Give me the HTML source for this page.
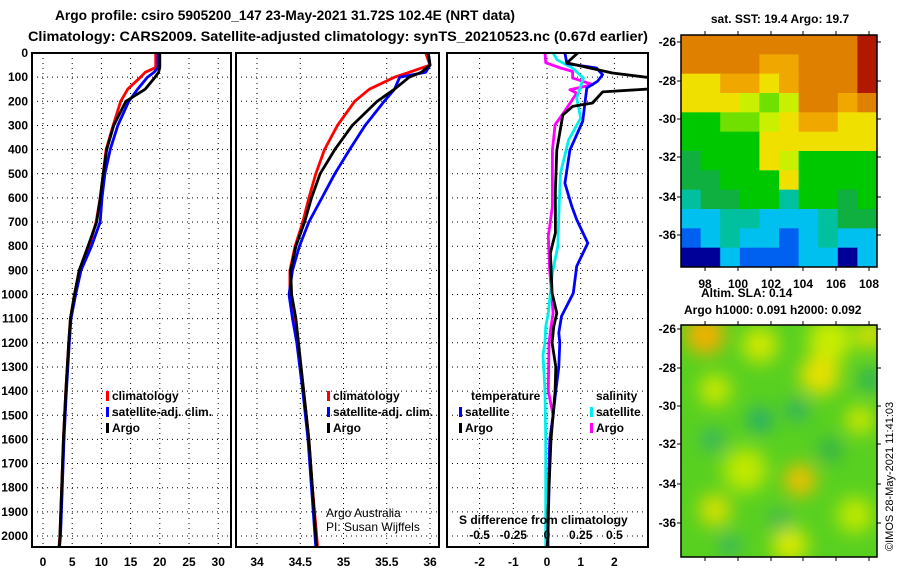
<!DOCTYPE html>
<html><head><meta charset="utf-8"><style>
html,body{margin:0;padding:0;background:#fff;}
svg{display:block;font-family:"Liberation Sans",Arial,sans-serif;}
.b{font-weight:bold;}
</style></head><body>
<svg id="c" width="900" height="580" viewBox="0 0 900 580">
<text x="55" y="20" textLength="460" lengthAdjust="spacingAndGlyphs" class="b" font-size="14">Argo profile: csiro 5905200_147 23-May-2021 31.72S 102.4E (NRT data)</text>
<text x="28" y="41" textLength="620" lengthAdjust="spacingAndGlyphs" class="b" font-size="14">Climatology: CARS2009. Satellite-adjusted climatology: synTS_20210523.nc (0.67d earlier)</text>
<g id="plots"></g>
<g id="maps"></g>
<text transform="translate(893,551) rotate(-90)" font-size="11">©IMOS 28-May-2021 11:41:03</text>
</svg>
<script>
// ---- data ----
const depthTicks=[0,100,200,300,400,500,600,700,800,900,1000,1100,1200,1300,1400,1500,1600,1700,1800,1900,2000];
const tTicks=[0,5,10,15,20,25,30];
const sTicks=[34,34.5,35,35.5,36];
const sTickLabels=["34","34.5","35","35.5","36"];
const dTTicks=[-2,-1,0,1,2];
const dSTicks=[-0.5,-0.25,0,0.25,0.5];
const dSTickLabels=["-0.5","-0.25","0","0.25","0.5"];

const tDepth=[0,60,80,100,150,200,300,400,500,600,700,800,900,1000,1100,1200,1400,1600,1800,2000,2050];
const tClim=[19.3,19.3,17.5,16.7,14.5,13.3,12.0,10.8,10.3,9.8,9.1,7.9,6.2,5.4,4.7,4.4,3.9,3.5,3.2,2.9,2.7];
const tSat=[19.7,19.7,19.0,17.9,16.2,14.7,12.8,11.5,10.6,10.1,9.8,8.3,6.5,5.6,4.8,4.5,4.0,3.6,3.3,3.0,2.8];
const tArgo=[20.0,20.0,19.8,19.2,17.5,14.2,12.1,10.9,10.3,9.8,9.2,7.7,6.2,5.4,4.7,4.4,3.9,3.5,3.2,2.9,2.8];

const sDepth=[0,50,80,100,150,200,300,400,500,600,700,800,900,1000,1100,1200,1400,1600,1800,2000,2050];
const sClim=[35.95,36.0,35.76,35.59,35.30,35.13,34.93,34.78,34.68,34.60,34.53,34.44,34.38,34.38,34.43,34.47,34.54,34.60,34.64,34.69,34.70];
const sSat=[35.98,36.0,35.95,35.65,35.59,35.47,35.25,35.07,34.90,34.75,34.60,34.49,34.41,34.37,34.41,34.46,34.53,34.59,34.63,34.67,34.68];
const sArgo=[35.98,36.0,35.90,35.76,35.59,35.39,35.10,34.90,34.73,34.63,34.55,34.45,34.39,34.40,34.45,34.48,34.54,34.60,34.64,34.68,34.69];

const dTArgoDepth=[0,41,83,110,145,161,207,221,257,402,567,745,828,994,1077,1134,1200,1300,1400,1500,1600,1700,1800,1900,2000,2050];
const dTArgo=[0.91,0.59,1.94,3.5,3.5,1.65,1.35,0.76,0.47,0.29,0.25,0.25,0.10,0.15,0.29,0.20,0.15,0.26,0.24,0.18,0.12,0.09,0.06,0.03,0.03,0.0];
const dTSatDepth=[0,44,62,90,117,145,283,402,539,636,690,787,883,994,1090,1159,1200,1300,1400,1500,1600,1800,2000,2050];
const dTSat=[0.53,0.59,1.47,1.65,1.5,1.18,1.06,0.68,0.53,0.74,0.88,1.21,0.88,0.78,0.43,0.35,0.38,0.35,0.26,0.18,0.09,0.06,0.03,0.03];
const dSArgoDepth=[0,40,62,76,104,131,152,166,242,297,402,636,760,900,1077,1134,1200,1400,1500,1600,1800,2000,2050];
const dSArgo=[-0.015,-0.01,0.10,0.19,0.19,0.34,0.17,0.22,0.13,0.06,0.04,0.04,0.01,0.02,0.045,0.03,0.015,0.01,0.045,0.02,0.01,0.0,0.0];
const dSSatDepth=[0,28,62,104,187,270,360,498,636,801,911,1077,1134,1200,1250,1400,1600,1800,2000,2050];
const dSSat=[0.045,0.075,0.19,0.27,0.22,0.25,0.16,0.10,0.09,0.08,0.04,0.01,-0.01,-0.015,-0.03,-0.015,-0.01,-0.01,-0.01,-0.01];

// ---- helpers ----
const NS="http://www.w3.org/2000/svg";
const plots=document.getElementById('plots');
function mk(tag,attrs,parent,txt){const e=document.createElementNS(NS,tag);for(const k in attrs)e.setAttribute(k,attrs[k]);if(txt!==undefined)e.textContent=txt;(parent||plots).appendChild(e);return e;}
const TOP=53,BOT=547;
const yD=d=>TOP+d*0.2415;
const xT=v=>43+v*5.84;
const xS=v=>257+(v-34)*86.5;
const xDT=v=>547+v*33.7;
const xDS=v=>547+v*134.8;

function panel(x0,x1,name){
  const g=mk('g',{});
  
  
  const cp=mk('clipPath',{id:'cp-'+name},g);
  mk('rect',{x:x0,y:TOP,width:x1-x0,height:BOT-TOP},cp);
  depthTicks.forEach(d=>{
    const l=mk('line',{x1:x0,x2:x1,y1:yD(d),y2:yD(d),stroke:'#000','stroke-width':1,'stroke-dasharray':'1,4'},g);
    
    
  });
  return g;
}
function vgrid(g,vals,fx){
  vals.forEach(v=>{
    const l=mk('line',{x1:fx(v),x2:fx(v),y1:TOP,y2:BOT,stroke:'#000','stroke-width':1,'stroke-dasharray':'1,4'},g);
    
    
  });
}
function frame(g,x0,x1){
  const r=mk('rect',{x:x0,y:TOP,width:x1-x0,height:BOT-TOP,fill:'none',stroke:'#000','stroke-width':2},g);
  
  
}
function line(g,name,depths,vals,fx,color,clip){
  const pts=[];
  for(let i=0;i<depths.length;i++){
    pts.push(fx(vals[i]).toFixed(1)+','+yD(depths[i]).toFixed(1));
  }
  const p=mk('polyline',{points:pts.join(' '),fill:'none',stroke:color,'stroke-width':2.8,'stroke-linejoin':'round','clip-path':'url(#cp-'+clip+')'},g);
  
  
}
function xlabels(g,vals,labels,fx,y,prefix){
  vals.forEach((v,i)=>{
    const t=mk('text',{x:fx(v),y:y,'text-anchor':'middle','font-size':12,'font-weight':'bold'},g,labels[i]);
    
    
  });
}
function legend(g,x,y,color,label){
  if(color){
    const m=mk('rect',{x:x,y:y-9,width:3,height:10,fill:color},g);
    
    
  }
  const t=mk('text',{x:x+6,y:y,'font-size':12,'font-weight':'bold'},g,label);
  
  
}

// y axis labels
const yax=mk('g',{});


depthTicks.forEach(d=>{
  const t=mk('text',{x:28,y:yD(d)+4,'text-anchor':'end','font-size':12,'font-weight':'bold'},yax,String(d));
  
  
});

// panel 1 temperature
const p1=panel(32,231,'temperature-panel');
vgrid(p1,tTicks,xT);
line(p1,'temp-climatology-line',tDepth,tClim,xT,'#f00','temperature-panel');
line(p1,'temp-satellite-line',tDepth,tSat,xT,'#00f','temperature-panel');
line(p1,'temp-argo-line',tDepth,tArgo,xT,'#000','temperature-panel');
frame(p1,32,231);
xlabels(p1,tTicks,tTicks.map(String),xT,566,'temperature');
legend(p1,106,400,'#f00','climatology');
legend(p1,106,416,'#00f','satellite-adj. clim.');
legend(p1,106,432,'#000','Argo');

// panel 2 salinity
const p2=panel(236,439,'salinity-panel');
vgrid(p2,sTicks,xS);
line(p2,'sal-climatology-line',sDepth,sClim,xS,'#f00','salinity-panel');
line(p2,'sal-satellite-line',sDepth,sSat,xS,'#00f','salinity-panel');
line(p2,'sal-argo-line',sDepth,sArgo,xS,'#000','salinity-panel');
frame(p2,236,439);
xlabels(p2,sTicks,sTickLabels,xS,566,'salinity');
legend(p2,327,400,'#f00','climatology');
legend(p2,327,416,'#00f','satellite-adj. clim.');
legend(p2,327,432,'#000','Argo');
mk('text',{x:326,y:517,'font-size':12},p2,'Argo Australia');
mk('text',{x:326,y:531,'font-size':12},p2,'PI: Susan Wijffels');

// panel 3 differences
const p3=panel(447,648,'difference-panel');
vgrid(p3,dSTicks,xDS);
line(p3,'dsal-argo-line',dSArgoDepth,dSArgo,xDS,'#f0f','difference-panel');
line(p3,'dsal-satellite-line',dSSatDepth,dSSat,xDS,'#0ee','difference-panel');
line(p3,'dtemp-satellite-line',dTSatDepth,dTSat,xDT,'#00f','difference-panel');
line(p3,'dtemp-argo-line',dTArgoDepth,dTArgo,xDT,'#000','difference-panel');
frame(p3,447,648);
xlabels(p3,dTTicks,dTTicks.map(String),xDT,566,'temp-diff');
xlabels(p3,dSTicks,dSTickLabels,xDS,539,'sal-diff');
mk('text',{x:459,y:524,'font-size':12,'font-weight':'bold'},p3,'S difference from climatology');
legend(p3,465,400,null,'temperature');
legend(p3,459,416,'#00f','satellite');
legend(p3,459,432,'#000','Argo');
legend(p3,590,400,null,'salinity');
legend(p3,590,416,'#0ee','satellite');
legend(p3,590,432,'#f0f','Argo');

// ---- maps ----
const maps=document.getElementById('maps');
const pal={R:'#b01800',O:'#e08000',o:'#f0a800',Y:'#f0e000',y:'#c8f000',L:'#70e000',G:'#00c800',g:'#10b040',T:'#00c0a0',C:'#00c0f0',B:'#0060f0',N:'#000098'};
const sstRows=["OOOOOOOOOR","OOOOooOOOR","YYooYoOOOR","YYYyLyOOoO","GGLLyYooYY","GGGGYYYYYY","gGGGYyGGGG","ggGGGYGGGG","TggGGTGGgG","CCTTCCCTgg","BCTCCBCTCC","NNCBBBCCNC"];
const sst=mk('g',{},maps);


const MX0=681,MX1=877,MY0=35,MY1=267;
const cw=(MX1-MX0)/10,ch=(MY1-MY0)/12;
sstRows.forEach((row,r)=>{[...row].forEach((c,k)=>{
  mk('rect',{x:MX0+k*cw,y:MY0+r*ch,width:cw+0.5,height:ch+0.5,fill:pal[c]},sst);
});});
mk('rect',{x:MX0,y:MY0,width:MX1-MX0,height:MY1-MY0,fill:'none',stroke:'#000','stroke-width':1.5},sst);
const latTop=[-26,-28,-30,-32,-34,-36],latTopY=[42,81,119,157,197,235];
latTop.forEach((v,i)=>{mk('text',{x:676,y:latTopY[i]+4,'text-anchor':'end','font-size':12,'font-weight':'bold'},sst,String(v));
mk('line',{x1:MX0-4,x2:MX0,y1:latTopY[i],y2:latTopY[i],stroke:'#000'},sst);mk('line',{x1:MX1,x2:MX1+4,y1:latTopY[i],y2:latTopY[i],stroke:'#000'},sst);});
const lon=[98,100,102,104,106,108],lonX=[705,738,771,803,836,869];
lon.forEach((v,i)=>{mk('text',{x:lonX[i],y:288,'text-anchor':'middle','font-size':12,'font-weight':'bold'},sst,String(v));
mk('line',{x1:lonX[i],x2:lonX[i],y1:MY1,y2:MY1+4,stroke:'#000'},sst);mk('line',{x1:lonX[i],x2:lonX[i],y1:MY0-4,y2:MY0,stroke:'#000'},sst);});
mk('text',{x:780,y:23,'text-anchor':'middle','font-size':12,'font-weight':'bold'},maps,'sat. SST: 19.4 Argo: 19.7');
mk('text',{x:701,y:297,'font-size':12,'font-weight':'bold'},maps,'Altim. SLA: 0.14');
mk('text',{x:684,y:314,'font-size':12,'font-weight':'bold'},maps,'Argo h1000: 0.091 h2000: 0.092');

const sla=mk('g',{},maps);


const BY0=325,BY1=557;
const defs=mk('defs',{},sla);
const f=mk('filter',{id:'bl',x:'-50%',y:'-50%',width:'200%',height:'200%'},defs);
mk('feGaussianBlur',{stdDeviation:9},f);
const cpm=mk('clipPath',{id:'cpm'},defs);
mk('rect',{x:MX0,y:BY0,width:MX1-MX0,height:BY1-BY0},cpm);
const gg=mk('g',{'clip-path':'url(#cpm)'},sla);
mk('rect',{x:MX0,y:BY0,width:MX1-MX0,height:BY1-BY0,fill:'#58d020'},gg);
const blobs=[[705,335,20,'#f0b000'],[760,345,18,'#d0e800'],[830,340,22,'#c8ec00'],[870,335,14,'#e0e000'],[715,390,16,'#c8e800'],[820,375,20,'#e8e000'],[860,420,14,'#d0e800'],[745,470,22,'#c0e800'],[800,480,16,'#f0c000'],[715,510,16,'#d8e000'],[855,515,18,'#c0e800'],[790,545,18,'#d8e800'],[760,420,12,'#20a878'],[797,410,10,'#20a878'],[713,440,11,'#30b070'],[830,450,12,'#30b050'],[780,520,10,'#30b060'],[730,545,10,'#30b070'],[870,380,10,'#20a870']];
const bg=mk('g',{filter:'url(#bl)'},gg);
blobs.forEach(b=>mk('circle',{cx:b[0],cy:b[1],r:b[2],fill:b[3]},bg));
mk('rect',{x:MX0,y:BY0,width:MX1-MX0,height:BY1-BY0,fill:'none',stroke:'#000','stroke-width':1.5},sla);
const latBotY=[329,368,406,444,484,523];
latTop.forEach((v,i)=>{mk('text',{x:676,y:latBotY[i]+4,'text-anchor':'end','font-size':12,'font-weight':'bold'},sla,String(v));
mk('line',{x1:MX0-4,x2:MX0,y1:latBotY[i],y2:latBotY[i],stroke:'#000'},sla);mk('line',{x1:MX1,x2:MX1+4,y1:latBotY[i],y2:latBotY[i],stroke:'#000'},sla);});
lonX.forEach(x=>{mk('line',{x1:x,x2:x,y1:BY1,y2:BY1+4,stroke:'#000'},sla);mk('line',{x1:x,x2:x,y1:BY0-4,y2:BY0,stroke:'#000'},sla);});
</script>
</body></html>
